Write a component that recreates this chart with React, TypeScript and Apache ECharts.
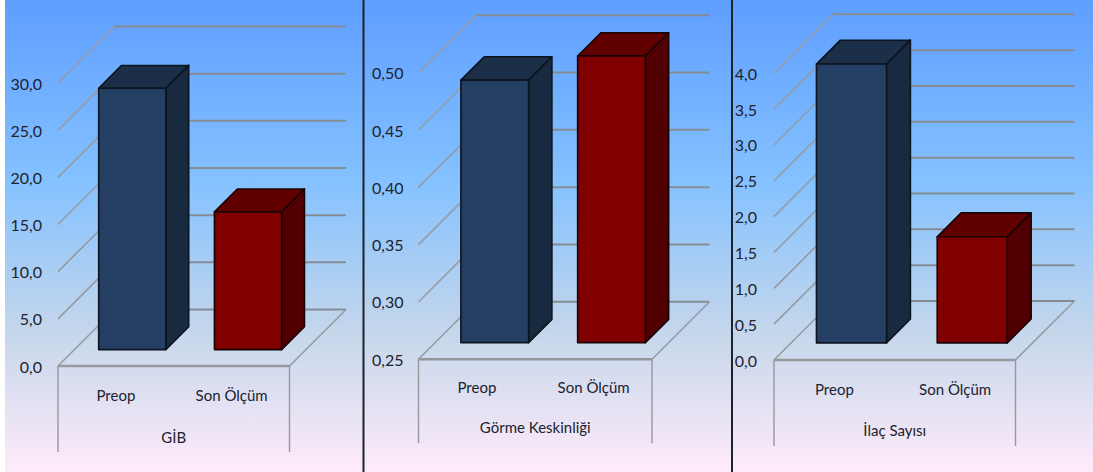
import React, { useEffect, useRef } from "react";
import * as echarts from "echarts";

// Measured values of the three panels
const categories = ["Preop", "Son Ölçüm"];
const gibValues = [27.7, 14.6];
const gibTicks = [0, 5, 10, 15, 20, 25, 30];
const gormeValues = [0.479, 0.5];
const gormeTicks = [0.25, 0.3, 0.35, 0.4, 0.45, 0.5];
const ilacValues = [3.89, 1.48];
const ilacTicks = [0, 0.5, 1, 1.5, 2, 2.5, 3, 3.5, 4];

// Faces of each bar: front, top, side, outline
const barFaces = [
  { front: "#243f63", top: "#1b2f48", side: "#172a40", edge: "#0c141f" },
  { front: "#800000", top: "#600000", side: "#500000", edge: "#180404" },
];

const panels = [
  { name: "GİB", values: gibValues, ticks: gibTicks, step: 5, digits: 1, shift: 0,
    left: 58, top: 83, width: 231.5, height: 283, depth: 56.5, drop: 86, labelGap: 16, catGap: 21, nameGap: 63 },
  { name: "Görme Keskinliği", values: gormeValues, ticks: gormeTicks, step: 0.05, digits: 2, shift: 1.2,
    left: 418.5, top: 72.7, width: 233.5, height: 286.6, depth: 57.5, drop: 84, labelGap: 15, catGap: 20, nameGap: 60 },
  { name: "İlaç Sayısı", values: ilacValues, ticks: ilacTicks, step: 0.5, digits: 1, shift: 0,
    left: 774, top: 73.3, width: 241.5, height: 286.7, depth: 59, drop: 86, labelGap: 17, catGap: 21, nameGap: 62 },
];

const TEXT_FONT = "Lato, 'Open Sans', sans-serif";
const TEXT_COLOR = "#20222e";
const GRID_COLOR = "#868c94";
const DIAGONAL_COLOR = "#959ca3";
const EDGE_COLOR = "#96989c";

function buildWallSeries(panel: any, index: number) {
  const lowest = panel.ticks[0];
  return {
    type: "custom",
    xAxisIndex: index,
    yAxisIndex: index,
    silent: true,
    z: 1,
    data: panel.ticks.map((t: number) => [0, t]),
    encode: { x: 0, y: 1 },
    renderItem: (params: any, api: any) => {
      const sys = params.coordSys;
      const d = panel.depth;
      const y = api.coord([0, api.value(1)])[1];
      const x0 = sys.x;
      const x1 = sys.x + sys.width;
      const line = (x1a: number, y1a: number, x2a: number, y2a: number, stroke: string, lineWidth: number) => ({
        type: "line",
        shape: { x1: x1a, y1: y1a, x2: x2a, y2: y2a },
        style: { stroke, lineWidth, fill: "none" },
      });
      const children: any[] = [
        line(x0, y, x0 + d, y - d, DIAGONAL_COLOR, 1.6),
        line(x0 + d, y - d, x1 + d, y - d, GRID_COLOR, 2),
      ];
      if (api.value(1) === lowest) {
        // Floor edges and the frame around the category labels
        children.push(
          line(x0, y, x1, y, EDGE_COLOR, 2.4),
          line(x1, y, x1 + d, y - d, DIAGONAL_COLOR, 1.6),
          line(x0, y, x0, y + panel.drop, EDGE_COLOR, 1.4),
          line(x1, y, x1, y + panel.drop, EDGE_COLOR, 1.4),
        );
      }
      return { type: "group", children };
    },
  };
}

function buildBarSeries(panel: any, index: number) {
  const lowest = panel.ticks[0];
  return {
    type: "custom",
    xAxisIndex: index,
    yAxisIndex: index,
    silent: true,
    z: 3,
    data: panel.values.map((v: number, i: number) => [i, v]),
    encode: { x: 0, y: 1 },
    renderItem: (params: any, api: any) => {
      const faces = barFaces[params.dataIndex];
      const cat = api.value(0);
      const top = api.coord([cat, api.value(1)]);
      const base = api.coord([cat, lowest]);
      const band = api.size([1, 0])[0];
      const half = band * 0.29;
      const inset = panel.depth * 0.29;
      const deep = panel.depth * 0.405;
      const xl = top[0] - half + inset + panel.shift;
      const xr = top[0] + half + inset + panel.shift;
      const yt = top[1] - inset;
      const yb = base[1] - inset;
      const face = (points: number[][], fill: string) => ({
        type: "polygon",
        shape: { points },
        style: { fill, stroke: faces.edge, lineWidth: 1.6, lineJoin: "round" },
      });
      return {
        type: "group",
        children: [
          face([[xl, yt], [xr, yt], [xr + deep, yt - deep], [xl + deep, yt - deep]], faces.top),
          face([[xr, yt], [xr + deep, yt - deep], [xr + deep, yb - deep], [xr, yb]], faces.side),
          face([[xl, yt], [xr, yt], [xr, yb], [xl, yb]], faces.front),
        ],
      };
    },
  };
}

export default function App() {
  const ref = useRef<HTMLDivElement>(null);

  useEffect(() => {
    const chart = echarts.init(ref.current!, undefined, { renderer: "svg" });
    chart.setOption({
      animation: false,
      backgroundColor: "#ffffff",
      graphic: [
        {
          type: "rect",
          z: -10,
          shape: { x: 5, y: 0, width: 1088, height: 472 },
          style: {
            fill: new echarts.graphic.LinearGradient(0, 0, 0, 1, [
              { offset: 0, color: "#5e9eff" },
              { offset: 0.39, color: "#85c2ff" },
              { offset: 0.7, color: "#c4d6eb" },
              { offset: 1, color: "#ffebfa" },
            ]),
          },
        },
        { type: "rect", z: 100, shape: { x: 362.5, y: 0, width: 2, height: 472 }, style: { fill: "#1d222c" } },
        { type: "rect", z: 100, shape: { x: 731, y: 0, width: 2, height: 472 }, style: { fill: "#1d222c" } },
      ],
      grid: panels.map((p) => ({ left: p.left, top: p.top, width: p.width, height: p.height })),
      xAxis: panels.map((p, i) => ({
        type: "category",
        gridIndex: i,
        data: categories,
        axisLine: { show: false },
        axisTick: { show: false },
        splitLine: { show: false },
        axisLabel: {
          margin: p.catGap,
          fontFamily: TEXT_FONT,
          fontSize: 15,
          color: TEXT_COLOR,
        },
        name: p.name,
        nameLocation: "middle",
        nameGap: p.nameGap,
        nameTextStyle: { fontFamily: TEXT_FONT, fontSize: 15, color: TEXT_COLOR },
      })),
      yAxis: panels.map((p, i) => ({
        type: "value",
        gridIndex: i,
        min: p.ticks[0],
        max: p.ticks[p.ticks.length - 1],
        interval: p.step,
        axisLine: { show: false },
        axisTick: { show: false },
        splitLine: { show: false },
        axisLabel: {
          margin: p.labelGap,
          fontFamily: TEXT_FONT,
          fontSize: 16,
          color: TEXT_COLOR,
          formatter: (v: number) => v.toFixed(p.digits).replace(".", ","),
        },
      })),
      series: panels.flatMap((p, i) => [buildWallSeries(p, i), buildBarSeries(p, i)]),
    });
    return () => chart.dispose();
  }, []);

  return (
    <div style={{ position: "fixed", left: 0, top: 0, width: 1093, height: 472 }}>
      <div ref={ref} style={{ width: 1093, height: 472 }} />
    </div>
  );
}
